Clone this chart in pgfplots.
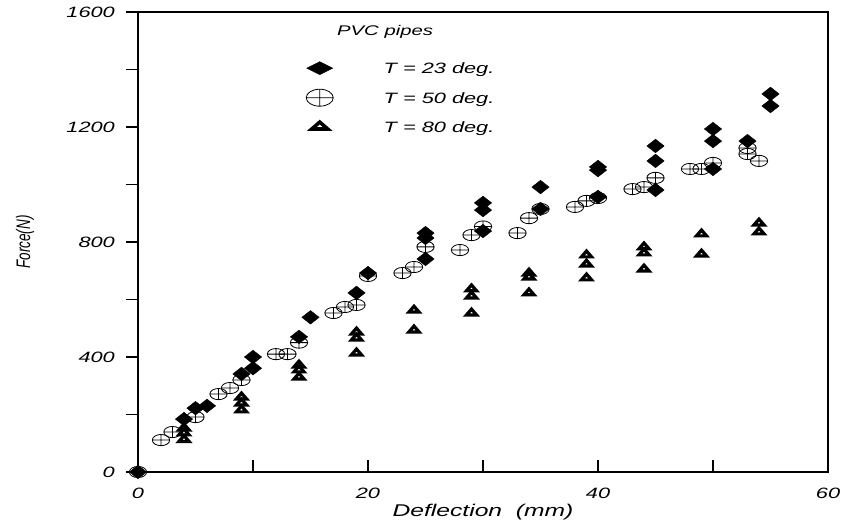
\documentclass[border=0pt]{standalone}
\usepackage{fontspec}
\setmainfont{Liberation Sans}[FakeStretch=1.45]
\newfontfamily\plainfont{Liberation Sans}
\usepackage{graphicx}
\usepackage{pgfplots}
\usepackage{pgfplotstable}
\pgfplotsset{compat=1.18}
\pgfplotstableread{
x y
0 0
4 184
5 222
6 230
9 341
10 361
10 400
14 470
15 538
19 623
20 692
25 741
25 814
25 831
30 838
30 911
30 936
35 915
35 991
40 957
40 1050
40 1061
45 981
45 1082
45 1134
50 1054
50 1151
50 1193
53 1151
55 1273
55 1315
}\dataA
\pgfplotstableread{
x y
0 0
2 111
3 139
5 191
7 271
8 292
9 320
12 410
13 410
14 450
17 553
18 574
19 581
20 682
23 692
24 713
25 783
28 772
29 824
30 854
33 831
34 883
35 915
38 922
39 943
40 953
43 984
44 991
45 1023
48 1054
49 1054
50 1075
53 1106
53 1127
54 1082
}\dataB
\pgfplotstableread{
x y
4 153
4 136
4 113
9 261
9 240
9 216
14 372
14 355
14 330
19 487
19 466
19 414
24 563
24 494
29 637
29 612
29 553
34 692
34 678
34 623
39 755
39 723
39 675
44 783
44 762
44 706
49 828
49 758
54 866
54 835
}\dataC
\newcommand\tlfont{\fontsize{15}{15}\selectfont\itshape}
\pgfplotsset{
  myleg/.style={legend image code/.code={%
    \path[draw=none,fill=none] (0pt,-9pt) rectangle (77pt,9pt);
    \draw[mark repeat=2,mark phase=2,##1] plot coordinates {(0pt,1pt) (13pt,1pt) (26pt,1pt)};}}
}
\begin{document}
\begin{tikzpicture}
\useasboundingbox (0,0) rectangle (843pt,528pt);
\begin{axis}[
  at={(138pt,56pt)}, anchor=south west,
  width=690pt, height=460pt, scale only axis,
  xmin=0, xmax=60, ymin=0, ymax=1600,
  clip=false,
  xtick={0,20,40,60}, minor xtick={10,30,50},
  ytick={0,400,...,1600}, minor ytick={200,600,1000,1400},
  tick pos=left,
  tick align=inside,
  major tick length=12pt, minor tick length=12pt,
  y tick style={xshift=-12pt},
  tick style={line width=1.3pt, black},
  axis line style={line width=1.6pt},
  /pgf/number format/assume math mode=true,
  /pgf/number format/1000 sep={},
  tick label style={font=\tlfont},
  yticklabel style={inner sep=0pt, anchor=east, xshift=-23pt},
  xticklabel style={inner sep=0pt, anchor=north, yshift=-16pt},
  xlabel={Deflection\ \ (mm)},
  xlabel style={font=\fontsize{17}{17}\selectfont\itshape, at={(axis description cs:0.5,-0.087)}, anchor=center},
  ylabel={\scalebox{1}[1.45]{\plainfont\fontsize{13.5}{13.5}\selectfont\itshape Force(N)}},
  ylabel style={at={(axis description cs:-0.1638,0.5)}, anchor=center},
  legend style={draw=none, fill=none, inner sep=0pt, at={(axis cs:14.61,1433)}, anchor=north west,
    nodes={inner sep=0pt}, row sep=11pt, column sep=0pt, font=\fontsize{15}{15}\selectfont\itshape},
  legend cell align=left,
]
\addplot[only marks, mark=diamond*, mark size=6.8pt, mark options={xscale=1.7, fill=black, draw=black}, forget plot] table {\dataA};
\addplot[only marks, mark=oplus, mark size=5.6pt, mark options={xscale=1.55, line width=0.8pt, draw=black}, forget plot] table {\dataB};
\addplot[only marks, mark=triangle*, mark size=3.9pt, mark options={xscale=1.5, line width=3.2pt, fill=white, draw=black, line join=miter}, forget plot] table {\dataC};
\addlegendimage{only marks, mark=diamond*, mark size=6.5pt, mark options={xscale=2.67, fill=black, draw=black}, myleg}
\addlegendentry{T = 23 deg.}
\addlegendimage{only marks, mark=oplus, mark size=8.5pt, mark options={xscale=1.59, line width=0.8pt, draw=black}, myleg}
\addlegendentry{T = 50 deg.}
\addlegendimage{only marks, mark=triangle*, mark size=4.6pt, mark options={xscale=2.0, line width=3.6pt, fill=white, draw=black, line join=miter}, myleg}
\addlegendentry{T = 80 deg.}
\node[anchor=west, inner sep=0pt, font=\fontsize{14}{14}\selectfont\itshape] at (axis cs:17.3,1530) {PVC pipes};
\end{axis}
\end{tikzpicture}
\end{document}
